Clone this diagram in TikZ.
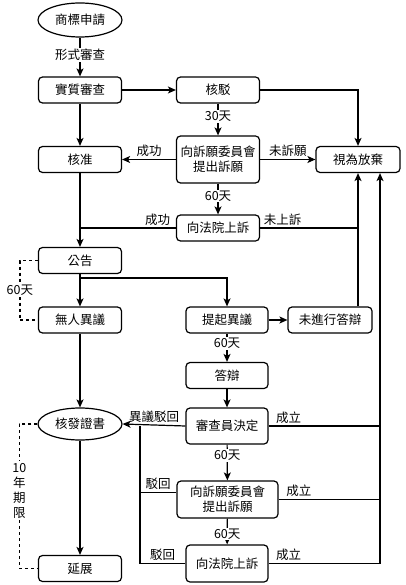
\documentclass[tikz,border=0pt]{standalone}
\usepackage{fontspec}
\setmainfont{Noto Sans CJK TC}
\usetikzlibrary{arrows.meta,shapes.geometric}
\begin{document}
\begin{tikzpicture}[x=1pt,y=-1pt,
  font=\fontsize{12.5}{15}\selectfont,
  box/.style={draw,rounded corners=4pt,line width=1.2pt,minimum width=83pt,minimum height=26pt,inner sep=0pt,align=center},
  oval/.style={draw,ellipse,line width=1.2pt,minimum width=84pt,minimum height=34pt,inner sep=0pt},
  conn/.style={line width=1.2pt},
  arr/.style={conn,-{Stealth[length=8pt,width=7pt,inset=2pt]}},
  lbl/.style={fill=white,inner sep=1pt},
  abv/.style={above,inner sep=2pt},
  dsh/.style={conn,dashed}]
\useasboundingbox (0,0) rectangle (406,585);
% nodes
\node[oval] (apply) at (80,20) {商標申請};
\node[box] (subst) at (80,90) {實質審查};
\node[box] (reject) at (218,90) {核駁};
\node[box,minimum height=47pt] (appeal1) at (218,159.5) {向訴願委員會\\提出訴願};
\node[box] (approve) at (80,159.5) {核准};
\node[box,minimum width=84pt] (abandon) at (358,159.5) {視為放棄};
\node[box] (court1) at (218,228) {向法院上訴};
\node[box] (publish) at (80,260.5) {公告};
\node[box] (noobj) at (80,320) {無人異議};
\node[box,minimum width=82pt] (oppose) at (227,320) {提起異議};
\node[box,minimum width=84pt] (noreply) at (330,320) {未進行答辯};
\node[box,minimum width=82pt] (reply) at (227,375.5) {答辯};
\node[box,minimum width=82pt,minimum height=36pt] (decide) at (227,426) {審查員決定};
\node[oval,minimum height=32pt] (cert) at (80,424) {核發證書};
\node[box,minimum width=101pt,minimum height=37pt] (appeal2) at (227.5,499.5) {向訴願委員會\\提出訴願};
\node[box,minimum width=82pt,minimum height=37pt] (court2) at (227,563.5) {向法院上訴};
\node[box] (extend) at (80,568.5) {延展};
\coordinate (rail) at (380,0);
\coordinate (lrail) at (140,0);
\coordinate (pb) at (80,278);
% connectors
\draw[arr] (apply) -- node[lbl,pos=0.45]{形式審查} (subst);
\draw[arr] (subst) -- (reject);
\draw[arr] (reject.east) -| (abandon.north);
\draw[arr] (reject) -- node[lbl,pos=0.4]{30天} (appeal1);
\draw[arr] (subst) -- (approve);
\draw[arr] (appeal1) -- node[abv]{成功} (approve);
\draw[arr] (appeal1) -- node[abv]{未訴願} (abandon);
\draw[arr] (appeal1) -- node[lbl,pos=0.4]{60天} (court1);
\draw[arr] (approve) -- (publish);
\draw[conn] (court1.west) -- node[abv,pos=0.19]{成功} (court1.west -| approve);
\draw[conn] (court1.east) -- node[abv,pos=0.23]{未上訴} (court1.east -| abandon);
\draw[arr] (noreply.north -| abandon) -- (abandon.south);
\draw[arr] (court2.east) -- node[abv,pos=0.18]{成立} (court2.east -| rail) -- (rail |- abandon.south);
\draw[conn] (decide.east) -- node[abv,pos=0.18]{成立} (decide.east -| rail);
\draw[conn] (appeal2.east) -- node[abv,pos=0.2]{成立} (appeal2.east -| rail);
\draw[arr] (publish) -- (noobj);
\draw[arr] (pb) -| (oppose.north);
\draw[dsh] (publish.west) -- ++(-18,0) |- node[lbl,pos=0.25]{60天} (noobj.west);
\draw[arr] (oppose) -- (noreply);
\draw[arr] (oppose) -- node[lbl,pos=0.35]{60天} (reply);
\draw[arr] (reply) -- (decide);
\draw[arr] (noobj) -- (cert);
\draw[arr] (decide.west) -- node[abv]{異議駁回} (cert.east);
\draw[arr] (decide) -- node[lbl,pos=0.3]{60天} (appeal2);
\draw[conn] ([yshift=7pt]appeal2.west) -- node[abv]{駁回} ([yshift=7pt]appeal2.west -| lrail) -- (lrail |- decide.west);
\draw[conn] (court2.west) -- node[abv]{駁回} (court2.west -| lrail) -- (lrail |- decide.west);
\draw[arr] (appeal2) -- node[lbl,pos=0.6]{60天} (court2);
\draw[arr] (cert) -- (extend);
\draw[dsh] (cert.west) -- ++(-18,0) |- node[lbl,pos=0.23,align=center,inner sep=2pt]{10\\年\\期\\限} (extend.west);
\end{tikzpicture}
\end{document}
